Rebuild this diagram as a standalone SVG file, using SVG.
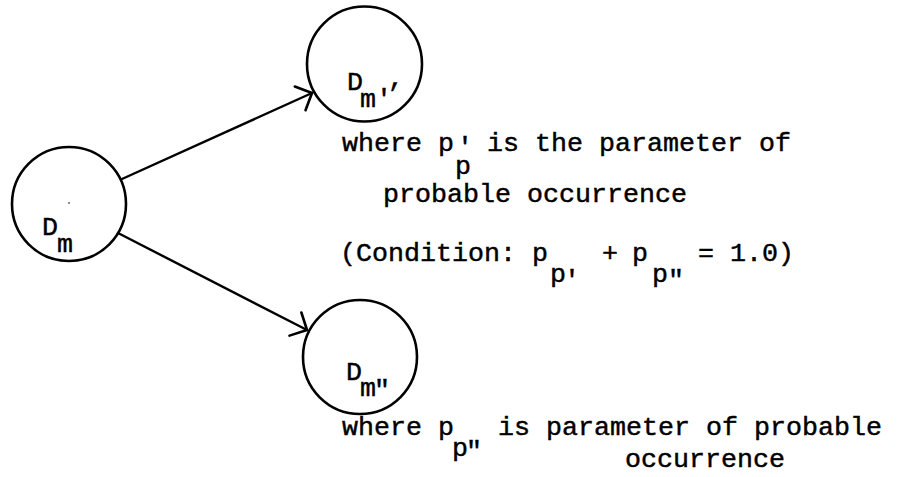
<svg xmlns="http://www.w3.org/2000/svg" width="900" height="477" viewBox="0 0 900 477">
<style>
.node{fill:none;stroke:#000;stroke-width:2.6}
.edge{fill:none;stroke:#000;stroke-width:2.4;stroke-linecap:round}
text{font-family:"Liberation Mono","Courier New",monospace;font-size:26.67px;fill:#000;stroke:#000;stroke-width:0.45}
</style>
<defs>
<marker id="arr" markerUnits="userSpaceOnUse" markerWidth="30" markerHeight="30" viewBox="-16 -15 18 30" refX="0" refY="0" orient="auto">
<path d="M-13,-13 L0,0 L-13,13" fill="none" stroke="#000" stroke-width="2.6" stroke-linecap="round" stroke-linejoin="round"/>
</marker>
</defs>
<rect width="900" height="477" fill="#fff"/>
<g id="connectors">
<line class="edge" x1="122" y1="179" x2="312" y2="93" marker-end="url(#arr)"/>
<line class="edge" x1="118" y1="233" x2="307" y2="330" marker-end="url(#arr)"/>
</g>
<g id="node-Dm">
<circle class="node" cx="69" cy="204" r="57"/>
<circle cx="69" cy="203" r="0.9" fill="#555"/>
<text><tspan x="42" y="235">D</tspan><tspan x="57" y="252">m</tspan></text>
</g>
<g id="node-Dm1">
<circle class="node" cx="364.5" cy="64" r="57.5"/>
<text><tspan x="347" y="90">D</tspan><tspan x="360" y="107">m'</tspan><tspan x="388" y="86">,</tspan></text>
</g>
<g id="node-Dm2">
<circle class="node" cx="360" cy="357" r="57"/>
<text><tspan x="346" y="380">D</tspan><tspan x="360" y="396">m</tspan><tspan x="374" y="398">"</tspan></text>
</g>
<g id="note-1">
<text><tspan x="342" y="151">where p</tspan><tspan x="457" y="155">'</tspan><tspan x="455" y="174">p</tspan><tspan x="487" y="151">is the parameter of</tspan></text>
<text x="383" y="202">probable occurrence</text>
</g>
<g id="note-condition">
<text><tspan x="340" y="261">(Condition: p</tspan><tspan x="550" y="282">p</tspan><tspan x="564" y="288">'</tspan><tspan x="602" y="261">+</tspan><tspan x="632" y="261">p</tspan><tspan x="652" y="282">p</tspan><tspan x="668" y="288">"</tspan><tspan x="698" y="261">= 1.0)</tspan></text>
</g>
<g id="note-2">
<text><tspan x="342" y="435">where p</tspan><tspan x="452" y="456">p</tspan><tspan x="466" y="459">"</tspan><tspan x="498" y="435">is parameter of probable</tspan></text>
<text x="625" y="467">occurrence</text>
</g>
</svg>
